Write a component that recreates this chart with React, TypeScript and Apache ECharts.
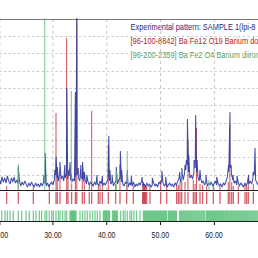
import React, { useEffect, useRef } from "react";
import * as echarts from "echarts";

// ---- axis ----
const xMin = 20;
const xMax = 70;
const xInterval = 10;
const yMax = 1710;

// ---- experimental pattern (noise on a regular 2θ grid + peaks) ----
const noiseStart = 20;
const noiseStep = 0.25;
const noise = [
  110, 60, 130, 80, 120, 70, 140, 90, 60, 120, 80, 130, 70, 100, 60, 90, 40, 80, 50, 90,
  60, 30, 70, 40, 80, 50, 30, 70, 40, 60, 30, 70, 40, 80, 60, 40, 70, 30, 60, 80,
  50, 100, 150, 120, 90, 160, 110, 140, 90, 120, 160, 110, 140, 100, 80, 110, 90, 130, 150, 120,
  90, 130, 110, 80, 100, 60, 90, 50, 80, 60, 40, 80, 50, 70, 40, 90, 60, 40, 70, 50,
  80, 110, 90, 60, 80, 40, 70, 90, 60, 100, 120, 80, 60, 40, 80, 60, 30, 70, 50, 40,
  80, 30, 60, 40, 70, 50, 90, 40, 60, 30, 70, 40, 60, 30, 50, 70, 40, 60, 30, 80,
  60, 90, 70, 40, 60, 30, 50, 70, 40, 60, 30, 70, 50, 90, 120, 80, 140, 100, 160, 200,
  250, 180, 120, 150, 110, 170, 220, 180, 130, 90, 120, 70, 90, 50, 80, 40, 70, 50, 80, 40,
  60, 90, 50, 70, 40, 60, 30, 70, 50, 90, 130, 180, 220, 160, 100, 70, 90, 50, 80, 40,
  70, 50, 30, 70, 40, 80, 60, 90, 60, 110, 150, 100, 70, 50, 80, 40, 70, 50, 80, 60,
  70,
];
const expPeaks: [number, number][] = [
  [23.53, 240], [28.3, 150], [28.55, 370], [30.35, 200], [30.58, 330], [30.82, 230],
  [31.3, 280], [32.2, 250], [32.57, 1020], [32.85, 200], [33.2, 280], [33.45, 160],
  [34.17, 980], [34.44, 1780], [34.7, 220], [35.2, 250], [35.5, 280], [35.85, 180],
  [36.3, 150], [38.2, 150], [39.2, 140], [40.4, 540], [40.62, 200], [41.0, 150],
  [41.8, 230], [42.55, 390], [42.8, 200], [43.85, 200], [44.6, 140], [46.6, 130],
  [48.5, 120], [50.3, 190], [51.0, 130], [53.6, 180], [54.0, 220], [54.6, 250],
  [54.85, 300], [55.05, 710], [55.3, 350], [56.3, 300], [56.58, 750], [56.85, 300],
  [57.4, 200], [58.5, 150], [60.5, 130], [62.7, 250], [62.98, 780], [63.2, 250],
  [63.5, 150], [64.3, 140], [66.45, 150], [67.3, 180], [67.65, 420],
];

// ---- reference 96-100-8842 (BaFe12O19): 2θ, relative height ----
const redRefs: [number, number][] = [
  [21.37, 40], [23.53, 60], [26.33, 40], [29.31, 60], [30.56, 770], [30.8, 150],
  [31.3, 120], [32.55, 1520], [32.8, 150], [33.48, 60], [34.17, 300], [34.44, 2000],
  [35.46, 200], [35.83, 80], [36.76, 60], [37.21, 793], [38.44, 40], [38.76, 60],
  [39.19, 50], [40.3, 450], [41.68, 60], [42.48, 250], [43.73, 50], [44.96, 40],
  [46.71, 60], [46.86, 80], [47.05, 60], [47.23, 50], [47.46, 40], [48.07, 40],
  [50.07, 100], [51.19, 60], [53.05, 60], [53.35, 50], [53.66, 80], [53.98, 100],
  [54.6, 80], [55.15, 500], [56.14, 100], [56.46, 60], [56.73, 620], [57.39, 60],
  [57.89, 50], [58.64, 40], [59.87, 50], [61.12, 40], [62.66, 80], [62.95, 650],
  [63.3, 80], [63.6, 40], [64.53, 40], [65.78, 50], [66.09, 40], [66.39, 100],
  [67.33, 60],
];

// ---- reference 96-200-2359 (BaFe2O4) ----
const greenSticks: [number, number][] = [
  [23.53, 260], [28.45, 2000], [33.41, 990], [41.79, 200], [43.84, 390], [53.98, 200], [59.06, 100],
];
const greenTicks = [
  20.44, 21.06, 21.49, 21.99, 22.6, 23.53, 24.17, 24.97, 25.58, 26.33, 26.83, 27.45, 27.89,
  28.51, 28.83, 29.31, 29.76, 30.06, 30.56, 30.99, 31.3, 31.8, 32.24, 32.55,
  33.17, 33.3, 33.45, 33.6, 33.72, 33.85, 34.0, 34.15, 34.3,
  35.03, 35.53, 35.96, 36.39, 36.89, 37.39, 37.83, 38.25, 38.76,
  39.38, 39.52, 39.68, 39.8, 39.95, 40.1, 40.25, 40.4, 40.55,
  41.12, 41.27, 41.4, 41.55, 41.7, 41.85, 41.98,
  42.61, 43.1, 43.42, 43.84, 44.35, 44.66, 45.09, 45.59, 46.21,
  46.83, 47.02, 47.2, 47.4, 47.58, 47.78, 47.96, 48.15, 48.35, 48.52, 48.72, 48.9, 49.1,
  49.28, 49.48, 49.66, 49.85, 50.05, 50.22, 50.42, 50.6, 50.8, 50.98, 51.18,
  51.5, 51.7, 51.88, 52.08, 52.26, 52.45, 52.64, 52.83, 53.02,
  53.6, 53.8, 53.98, 54.17, 54.36, 54.55, 54.74, 54.92, 55.1, 55.3, 55.48, 55.68, 55.86,
  56.05, 56.24, 56.42, 56.62, 56.8, 57.0, 57.18, 57.37, 57.56, 57.75, 57.94, 58.12, 58.3,
  58.62, 58.8, 59.0, 59.18, 59.37, 59.56, 59.74, 59.93, 60.12, 60.3, 60.5, 60.68, 60.87,
  61.05, 61.24, 61.43, 61.62, 61.8, 62.0, 62.18, 62.37, 62.56, 62.74, 62.94, 63.12, 63.3,
  63.5, 63.68, 63.87, 64.06, 64.24, 64.43, 64.62, 64.8, 65.0, 65.18, 65.37, 65.56, 65.74,
  65.94, 66.12, 66.3, 66.5, 66.68, 66.87, 67.06, 67.24, 67.43, 67.62, 67.8, 68.0, 68.2,
];

// legend texts as far as the reference shows them (they run off its right edge)
const legendLabels = [
  "Experimental pattern: SAMPLE 1(lpi-8",
  "[96-100-8842] Ba Fe12 O19 Barium do",
  "[96-200-2359] Ba Fe2 O4 Barium diiron",
];
const legendColors = ["#2a2a78", "#b82030", "#4fa46c"];

const BLUE = "#2f3c9e";
const RED = "#c42636";
const GREEN_STICK = "#66c086";
const GREEN_TICK = "#52bd74";

const SCALE_X = 0.78;
const CHART_W = 400;
const CHART_H = 258;
const GRID_LEFT = 24.78;
const GRID_RIGHT = 31.2;
const FONT = "'Liberation Sans', Arial, sans-serif";

function sticks(list: [number, number][]) {
  const out: any[] = [];
  list.forEach(([x, h]) => {
    out.push([x, 0], [x, h], [x, "-"]);
  });
  return out;
}

export default function App() {
  const ref = useRef<HTMLDivElement>(null);
  useEffect(() => {
    if (!ref.current) return;
    const chart = echarts.init(ref.current, undefined, { renderer: "svg" });
    const expData = [
      ...noise.map((v, i) => [noiseStart + i * noiseStep, v] as [number, number]),
      ...expPeaks,
    ].sort((a, b) => a[0] - b[0]);

    const hiddenX = (gridIndex: number, extra: any = {}) => ({
      type: "value",
      gridIndex,
      min: xMin,
      max: xMax,
      interval: xInterval,
      axisLabel: { show: false },
      axisTick: { show: false },
      axisLine: { show: false },
      splitLine: { show: false },
      ...extra,
    });

    chart.setOption({
      animation: false,
      grid: [
        { left: GRID_LEFT, right: GRID_RIGHT, top: 19, height: 171 },
        { left: GRID_LEFT, right: GRID_RIGHT, top: 19, height: 156 },
        { left: GRID_LEFT, right: GRID_RIGHT, top: 192, height: 12 },
        { left: GRID_LEFT, right: GRID_RIGHT, top: 210.5, height: 10.5 },
      ],
      xAxis: [
        hiddenX(0, {
          axisLine: { show: true, onZero: false, lineStyle: { color: "#000", width: 1 } },
          splitLine: { show: true, lineStyle: { color: "#c4c4c4", type: [3, 3], width: 1.2 } },
        }),
        hiddenX(1, {
          position: "top",
          axisLine: { show: true, onZero: false, lineStyle: { color: "#6a6a6a", width: 1 } },
        }),
        hiddenX(2),
        hiddenX(3, {
          axisLine: { show: true, onZero: false, lineStyle: { color: "#000", width: 1 } },
          axisTick: { show: true, length: 4, lineStyle: { color: "#000", width: 1.2 } },
          axisLabel: {
            show: true,
            formatter: (v: number) => v.toFixed(2),
            fontSize: 9,
            fontFamily: FONT,
            color: "#1a1a1a",
            margin: 10,
          },
        }),
      ],
      yAxis: [
        { type: "value", gridIndex: 0, min: 0, max: yMax, show: false, splitLine: { show: false } },
        {
          type: "value",
          gridIndex: 1,
          min: 0,
          max: 9,
          interval: 1,
          axisLine: { show: false },
          axisTick: { show: false },
          axisLabel: { show: false },
          splitLine: { show: true, lineStyle: { color: "#c4c4c4", type: [3, 3] } },
        },
        { type: "value", gridIndex: 2, min: 0, max: 1, show: false, splitLine: { show: false } },
        { type: "value", gridIndex: 3, min: 0, max: 1, show: false, splitLine: { show: false } },
      ],
      series: [
        {
          type: "line",
          xAxisIndex: 1,
          yAxisIndex: 1,
          data: [],
          silent: true,
        },
        {
          name: legendLabels[1],
          type: "line",
          xAxisIndex: 0,
          yAxisIndex: 0,
          data: sticks(redRefs),
          symbol: "none",
          connectNulls: false,
          lineStyle: { color: RED, width: 1.3, opacity: 0.8 },
          clip: true,
          z: 3,
        },
        {
          name: legendLabels[0],
          type: "line",
          xAxisIndex: 0,
          yAxisIndex: 0,
          data: expData,
          showSymbol: false,
          symbol: "none",
          lineStyle: { color: BLUE, width: 1.3, opacity: 0.92 },
          clip: true,
          z: 4,
        },
        {
          name: legendLabels[2],
          type: "line",
          xAxisIndex: 0,
          yAxisIndex: 0,
          data: sticks(greenSticks),
          symbol: "none",
          connectNulls: false,
          lineStyle: { color: GREEN_STICK, width: 1.3, opacity: 0.9 },
          clip: true,
          z: 5,
        },
        {
          type: "scatter",
          xAxisIndex: 2,
          yAxisIndex: 2,
          data: redRefs.map(([x]) => [x, 0.5]),
          symbol: "rect",
          symbolSize: [1.5, 12],
          itemStyle: { color: RED },
          silent: true,
        },
        {
          type: "scatter",
          xAxisIndex: 3,
          yAxisIndex: 3,
          data: greenTicks.map((x) => [x, 0.5]),
          symbol: "rect",
          symbolSize: [1.6, 10.5],
          itemStyle: { color: GREEN_TICK },
          silent: true,
        },
      ],
      graphic: legendLabels.map((t, i) => ({
        type: "text",
        x: 193,
        y: 27 + i * 14,
        silent: true,
        style: {
          text: t,
          fill: legendColors[i],
          fontSize: 9.5,
          fontFamily: FONT,
          verticalAlign: "middle",
          align: "left",
        },
      })),
    });
    return () => chart.dispose();
  }, []);

  return (
    <div
      ref={ref}
      style={{
        position: "fixed",
        left: -20,
        top: 0,
        width: CHART_W,
        height: CHART_H,
        transform: `scaleX(${SCALE_X})`,
        transformOrigin: "0 0",
        background: "#fff",
      }}
    />
  );
}
